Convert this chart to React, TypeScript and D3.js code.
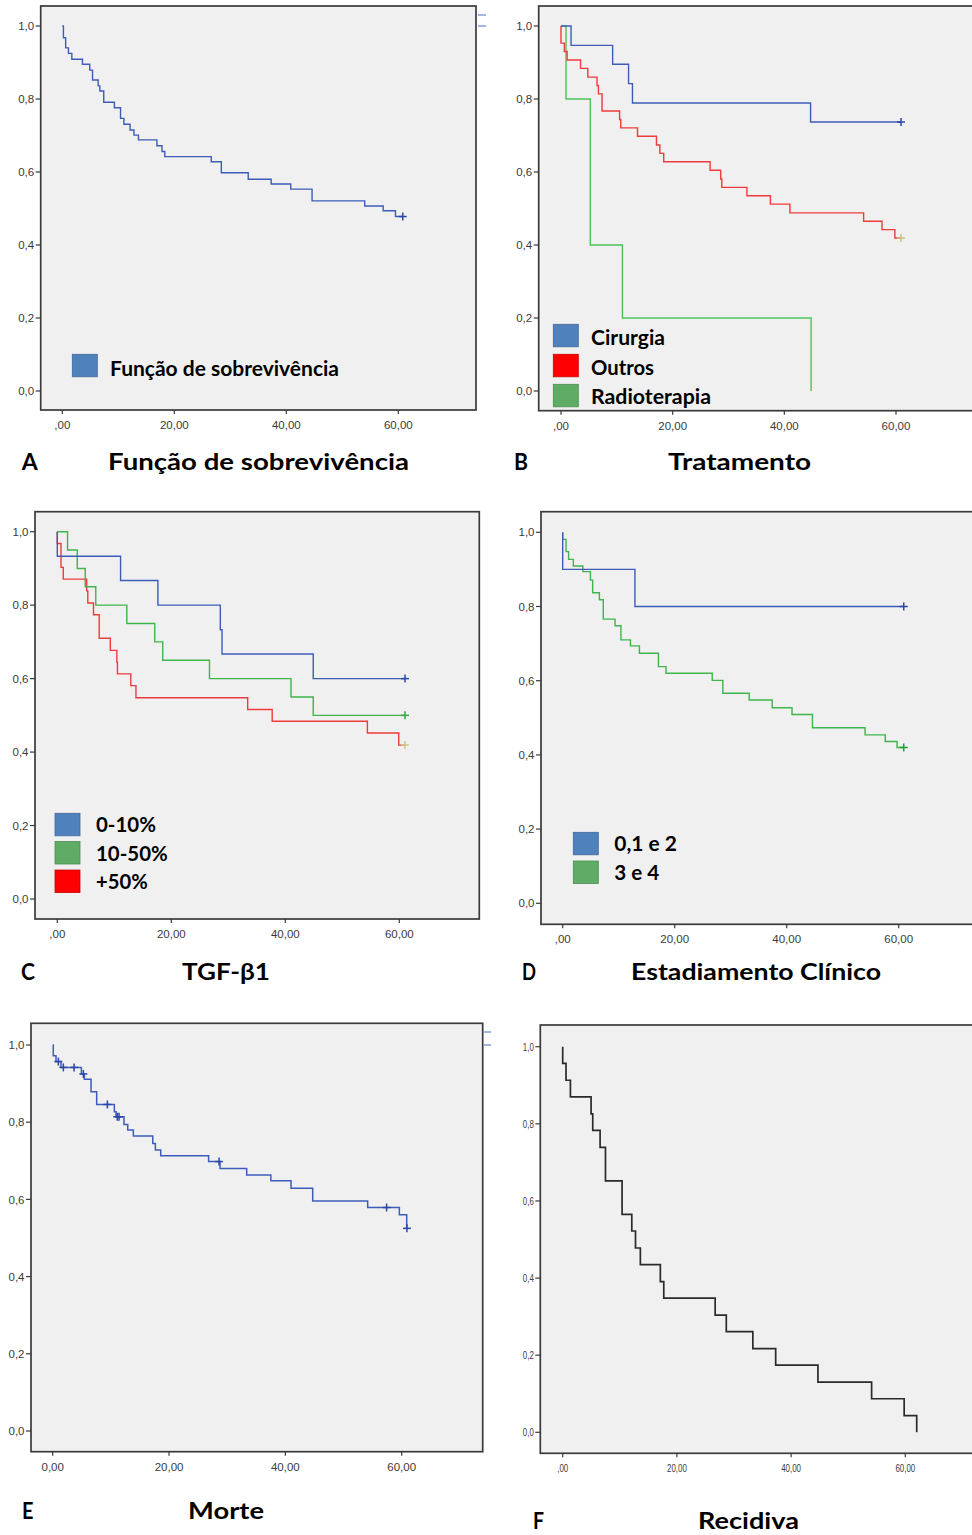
import React from 'react';
import * as d3 from 'd3';

// ---------- axis ticks ----------
const yTickValues = [0, 0.2, 0.4, 0.6, 0.8, 1.0];
const yTickLabels = ['0,0', '0,2', '0,4', '0,6', '0,8', '1,0'];
const xTickValues = [0, 20, 40, 60];
const xTickLabels = [',00', '20,00', '40,00', '60,00'];
const xTickLabelsE = ['0,00', '20,00', '40,00', '60,00'];

// ---------- Panel A: Função de sobrevivência ----------
const timesA = [0.2, 0.6, 1.1, 1.7, 3.6, 4.9, 5.4, 6.4, 6.7, 7.4, 9.3, 10.4, 11.0, 12.1, 12.8, 13.6, 16.9, 17.8, 18.3, 26.6, 28.4, 33.2, 37.3, 40.8, 44.6, 54.0, 57.3, 59.5];
const survA = [0.968, 0.94, 0.925, 0.909, 0.895, 0.879, 0.852, 0.836, 0.822, 0.791, 0.776, 0.747, 0.731, 0.715, 0.701, 0.688, 0.672, 0.656, 0.642, 0.628, 0.598, 0.58, 0.567, 0.553, 0.521, 0.507, 0.494, 0.478];
const censorA = [60.8];

// ---------- Panel B: Tratamento ----------
const timesCirurgia = [1.8, 9.25, 12.1, 12.8, 44.7];
const survCirurgia = [0.947, 0.895, 0.842, 0.789, 0.737];
const censorCirurgia = [60.9];
const timesOutros = [0.0, 0.6, 1.1, 3.5, 4.8, 6.45, 6.7, 7.35, 10.5, 10.7, 13.7, 17.1, 17.7, 18.4, 26.7, 28.6, 28.8, 33.3, 37.5, 41.0, 54.2, 57.5, 59.8];
const survOutros = [0.953, 0.93, 0.907, 0.884, 0.86, 0.837, 0.814, 0.767, 0.744, 0.721, 0.698, 0.674, 0.651, 0.628, 0.605, 0.581, 0.558, 0.535, 0.512, 0.488, 0.465, 0.442, 0.419];
const censorOutros = [60.9];
const timesRadio = [0.9, 5.25, 5.25, 11.0, 44.8];
const survRadio = [0.8, 0.6, 0.4, 0.2, 0.0];
const censorRadio: number[] = [];

// ---------- Panel C: TGF-β1 ----------
const timesC010 = [0.0, 11.1, 17.65, 28.6, 28.9, 44.9];
const survC010 = [0.933, 0.867, 0.8, 0.733, 0.667, 0.6];
const censorC010 = [61.0];
const timesC1050 = [1.8, 3.5, 4.9, 6.75, 12.2, 17.1, 18.5, 26.7, 41.0, 44.9];
const survC1050 = [0.95, 0.9, 0.85, 0.8, 0.75, 0.7, 0.65, 0.6, 0.55, 0.5];
const censorC1050 = [61.0];
const timesC50 = [0.0, 0.65, 0.65, 1.05, 5.15, 5.35, 6.35, 7.35, 7.35, 9.3, 10.45, 10.55, 12.9, 13.8, 33.4, 37.7, 54.4, 59.9];
const survC50 = [0.968, 0.935, 0.903, 0.871, 0.839, 0.806, 0.774, 0.742, 0.71, 0.677, 0.645, 0.613, 0.581, 0.548, 0.516, 0.484, 0.452, 0.419];
const censorC50 = [61.0];

// ---------- Panel D: Estadiamento Clínico ----------
const timesD012 = [0.0, 12.9];
const survD012 = [0.9, 0.8];
const censorD012 = [60.9];
const timesD34 = [0.0, 0.6, 1.05, 1.9, 3.6, 4.95, 5.35, 6.55, 7.25, 9.35, 10.4, 12.1, 13.7, 17.1, 18.45, 26.7, 28.6, 33.3, 37.4, 40.95, 44.6, 54.0, 57.6, 59.7];
const survD34 = [0.981, 0.948, 0.927, 0.909, 0.894, 0.871, 0.837, 0.818, 0.766, 0.748, 0.71, 0.694, 0.674, 0.638, 0.62, 0.601, 0.566, 0.548, 0.527, 0.509, 0.473, 0.454, 0.436, 0.42];
const censorD34 = [60.9];

// ---------- Panel E: Morte ----------
const timesE = [0.1, 0.57, 1.43, 4.93, 5.44, 6.59, 7.56, 10.6, 10.9, 12.26, 12.9, 13.87, 17.2, 17.65, 18.57, 26.8, 28.77, 33.35, 37.5, 40.97, 44.7, 54.15, 59.6, 60.86];
const survE = [0.972, 0.957, 0.942, 0.925, 0.911, 0.879, 0.846, 0.827, 0.814, 0.794, 0.78, 0.764, 0.745, 0.728, 0.713, 0.698, 0.68, 0.663, 0.648, 0.629, 0.596, 0.579, 0.56, 0.525];
const censorE = [0.97, 1.83, 3.67, 5.27, 9.4, 11.1, 11.4, 28.6, 57.4, 60.9];

// ---------- Panel F: Recidiva ----------
const timesF = [0.0, 0.58, 1.35, 4.97, 5.26, 6.55, 7.49, 7.49, 10.4, 10.4, 12.1, 12.75, 13.6, 17.1, 17.7, 26.7, 28.65, 33.3, 37.3, 44.7, 54.1, 59.8, 62.0];
const survF = [0.957, 0.913, 0.87, 0.826, 0.783, 0.739, 0.696, 0.652, 0.609, 0.565, 0.522, 0.478, 0.435, 0.391, 0.348, 0.304, 0.261, 0.217, 0.174, 0.13, 0.087, 0.043, 0.0];
const censorF: number[] = [];

// ---------- colours ----------
const BLUE = '#3d5cb8';
const RED = '#ee3b3b';
const GREEN = '#3db54b';
const LEG_BLUE = '#4f81bd';
const LEG_RED = '#ff0000';
const LEG_GREEN = '#5fad65';

type Series = {
  times: number[];
  surv: number[];
  censor: number[];
  color: string;
  censorColor: string;
  width?: number;
};

type Layout = {
  l: number; t: number; r: number; b: number;
  x0: number; x60: number; y0: number; y1: number;
  xLabels: string[];
  labelScale?: number;
  fontSize?: number;
};

function survAt(s: Series, t: number) {
  let v = 1;
  for (let i = 0; i < s.times.length; i++) if (s.times[i] <= t + 1e-9) v = s.surv[i];
  return v;
}

function Panel({ p, series }: { p: Layout; series: Series[] }) {
  const x = d3.scaleLinear().domain([0, 60]).range([p.x0, p.x60]);
  const y = d3.scaleLinear().domain([0, 1]).range([p.y0, p.y1]);
  const line = d3
    .line<[number, number]>()
    .x((d) => x(d[0]))
    .y((d) => y(d[1]))
    .curve(d3.curveStepAfter);
  const fs = p.fontSize ?? 11.5;
  const sc = p.labelScale ?? 1;
  return (
    <g>
      <rect x={p.l} y={p.t} width={p.r - p.l} height={p.b - p.t} fill="#f0f0f0" stroke="#3a3a3a" strokeWidth={1.7} />
      {yTickValues.map((v, i) => (
        <g key={'y' + i}>
          <line x1={p.l - 5} x2={p.l} y1={y(v)} y2={y(v)} stroke="#3a3a3a" strokeWidth={1.2} />
          <text
            transform={`translate(${p.l - 6.5},${y(v)}) scale(${sc},1)`}
            dy="0.36em"
            textAnchor="end"
            fontSize={fs}
            fill="#3a3a3a"
          >
            {yTickLabels[i]}
          </text>
        </g>
      ))}
      {xTickValues.map((v, i) => (
        <g key={'x' + i}>
          <line x1={x(v)} x2={x(v)} y1={p.b} y2={p.b + 4} stroke="#3a3a3a" strokeWidth={1.2} />
          <text
            transform={`translate(${x(v)},${p.b + 19}) scale(${sc},1)`}
            textAnchor="middle"
            fontSize={fs}
            fill="#3a3a3a"
          >
            {p.xLabels[i]}
          </text>
        </g>
      ))}
      {series.map((s, k) => {
        const lastT = s.times[s.times.length - 1];
        const end = s.censor.length ? Math.max(lastT, ...s.censor) : lastT;
        const pts: [number, number][] = [[0, 1], ...s.times.map((t, i) => [t, s.surv[i]] as [number, number]), [end, s.surv[s.surv.length - 1]]];
        return <path key={'s' + k} d={line(pts) || ''} fill="none" stroke={s.color} strokeWidth={s.width ?? 1.4} />;
      })}
      {series.map((s, k) =>
        s.censor.map((c, j) => {
          const cx = x(c);
          const cy = y(survAt(s, c));
          return (
            <g key={'c' + k + '-' + j} stroke={s.censorColor} strokeWidth={1.5}>
              <line x1={cx - 4} x2={cx + 4} y1={cy} y2={cy} />
              <line x1={cx} x2={cx} y1={cy - 4} y2={cy + 4} />
            </g>
          );
        })
      )}
    </g>
  );
}

function Fit({ x, y, w, children, size = 22, weight = 700 }: { x: number; y: number; w: number; children: string; size?: number; weight?: number }) {
  return (
    <text x={x} y={y} fontSize={size} fontWeight={weight} fontFamily="Lato, 'Open Sans', sans-serif" fill="#000" textLength={w} lengthAdjust="spacingAndGlyphs">
      {children}
    </text>
  );
}

function LegendItem({ x, y, color, label, tx, tw, ty }: { x: number; y: number; color: string; label: string; tx: number; tw: number; ty: number }) {
  return (
    <g>
      <rect x={x} y={y} width={25} height={22.5} fill={color} stroke={d3.color(color)!.darker(0.6).toString()} strokeWidth={0.8} />
      <Fit x={tx} y={ty} w={tw} size={21}>{label}</Fit>
    </g>
  );
}

export default function App() {
  const seriesA: Series[] = [{ times: timesA, surv: survA, censor: censorA, color: BLUE, censorColor: '#2b47a8' }];
  const seriesB: Series[] = [
    { times: timesRadio, surv: survRadio, censor: censorRadio, color: '#4cc45a', censorColor: '#2faa3c' },
    { times: timesOutros, surv: survOutros, censor: censorOutros, color: RED, censorColor: '#c9c27a' },
    { times: timesCirurgia, surv: survCirurgia, censor: censorCirurgia, color: BLUE, censorColor: '#2b47a8' },
  ];
  const seriesC: Series[] = [
    { times: timesC50, surv: survC50, censor: censorC50, color: RED, censorColor: '#cfc68a' },
    { times: timesC1050, surv: survC1050, censor: censorC1050, color: GREEN, censorColor: '#2faa3c' },
    { times: timesC010, surv: survC010, censor: censorC010, color: BLUE, censorColor: '#2b47a8' },
  ];
  const seriesD: Series[] = [
    { times: timesD34, surv: survD34, censor: censorD34, color: GREEN, censorColor: '#1f9f2f' },
    { times: timesD012, surv: survD012, censor: censorD012, color: BLUE, censorColor: '#2b47a8' },
  ];
  const seriesE: Series[] = [{ times: timesE, surv: survE, censor: censorE, color: BLUE, censorColor: '#2b47a8', width: 1.5 }];
  const seriesF: Series[] = [{ times: timesF, surv: survF, censor: censorF, color: '#2a2a2a', censorColor: '#2a2a2a', width: 1.7 }];

  const layA: Layout = { l: 40.7, t: 6, r: 476, b: 410, x0: 62.3, x60: 398.3, y0: 391, y1: 26, xLabels: xTickLabels };
  const layB: Layout = { l: 538.7, t: 6, r: 990, b: 410.7, x0: 561, x60: 896, y0: 391, y1: 26, xLabels: xTickLabels };
  const layC: Layout = { l: 35, t: 511.7, r: 479.3, b: 919, x0: 57.3, x60: 399.3, y0: 899, y1: 531.7, xLabels: xTickLabels };
  const layD: Layout = { l: 541, t: 511.7, r: 990, b: 924.3, x0: 562.7, x60: 898.7, y0: 903.3, y1: 532.3, xLabels: xTickLabels };
  const layE: Layout = { l: 31, t: 1023.3, r: 482.7, b: 1451.7, x0: 52.7, x60: 401.7, y0: 1431, y1: 1045, xLabels: xTickLabelsE };
  const layF: Layout = { l: 540.3, t: 1025, r: 990, b: 1453.3, x0: 562.7, x60: 905.3, y0: 1432.3, y1: 1046.7, xLabels: xTickLabels, labelScale: 0.72, fontSize: 11 };

  return (
    <svg
      width={972}
      height={1535}
      style={{ position: 'absolute', left: 0, top: 0, background: '#ffffff' }}
      fontFamily="'Liberation Sans', Arial, sans-serif"
    >
      <rect x={0} y={0} width={972} height={1535} fill="#ffffff" />
      <Panel p={layA} series={seriesA} />
      <Panel p={layB} series={seriesB} />
      <Panel p={layC} series={seriesC} />
      <Panel p={layD} series={seriesD} />
      <Panel p={layE} series={seriesE} />
      <Panel p={layF} series={seriesF} />

      {/* remnants of original legends at panel edges */}
      <g stroke="#6a80cc" strokeWidth={1.2}>
        <line x1={478} x2={486} y1={15} y2={15} />
        <line x1={478} x2={486} y1={26} y2={26} />
        <line x1={484} x2={491} y1={1032} y2={1032} />
        <line x1={484} x2={491} y1={1045} y2={1045} />
      </g>

      {/* legends */}
      <LegendItem x={72.3} y={354.3} color={LEG_BLUE} label="Função de sobrevivência" tx={110} tw={229} ty={375.7} />

      <LegendItem x={553.3} y={324.3} color={LEG_BLUE} label="Cirurgia" tx={591} tw={74} ty={345} />
      <LegendItem x={553.3} y={354.3} color={LEG_RED} label="Outros" tx={591} tw={63} ty={375} />
      <LegendItem x={553.3} y={384.3} color={LEG_GREEN} label="Radioterapia" tx={591} tw={120} ty={404} />

      <LegendItem x={55} y={813.3} color={LEG_BLUE} label="0-10%" tx={96} tw={60} ty={831.7} />
      <LegendItem x={55} y={841.5} color={LEG_GREEN} label="10-50%" tx={96} tw={71.7} ty={860.7} />
      <LegendItem x={55} y={870} color={LEG_RED} label="+50%" tx={96} tw={51.7} ty={889} />

      <LegendItem x={573.3} y={832.3} color={LEG_BLUE} label="0,1 e 2" tx={614.3} tw={62.7} ty={850.7} />
      <LegendItem x={573.3} y={861} color={LEG_GREEN} label="3 e 4" tx={614.3} tw={45} ty={880} />

      {/* captions */}
      <Fit x={21.7} y={470} w={16}>A</Fit>
      <Fit x={108} y={470} w={301}>Função de sobrevivência</Fit>
      <Fit x={514} y={470} w={14}>B</Fit>
      <Fit x={668} y={470} w={143}>Tratamento</Fit>

      <Fit x={21} y={980.3} w={14}>C</Fit>
      <Fit x={182} y={980.3} w={88}>TGF-β1</Fit>
      <Fit x={522} y={980.3} w={14}>D</Fit>
      <Fit x={631} y={980.3} w={250}>Estadiamento Clínico</Fit>

      <Fit x={22} y={1519} w={11.5}>E</Fit>
      <Fit x={188} y={1519} w={76}>Morte</Fit>
      <Fit x={533} y={1529} w={11}>F</Fit>
      <Fit x={698} y={1529} w={101}>Recidiva</Fit>
    </svg>
  );
}
